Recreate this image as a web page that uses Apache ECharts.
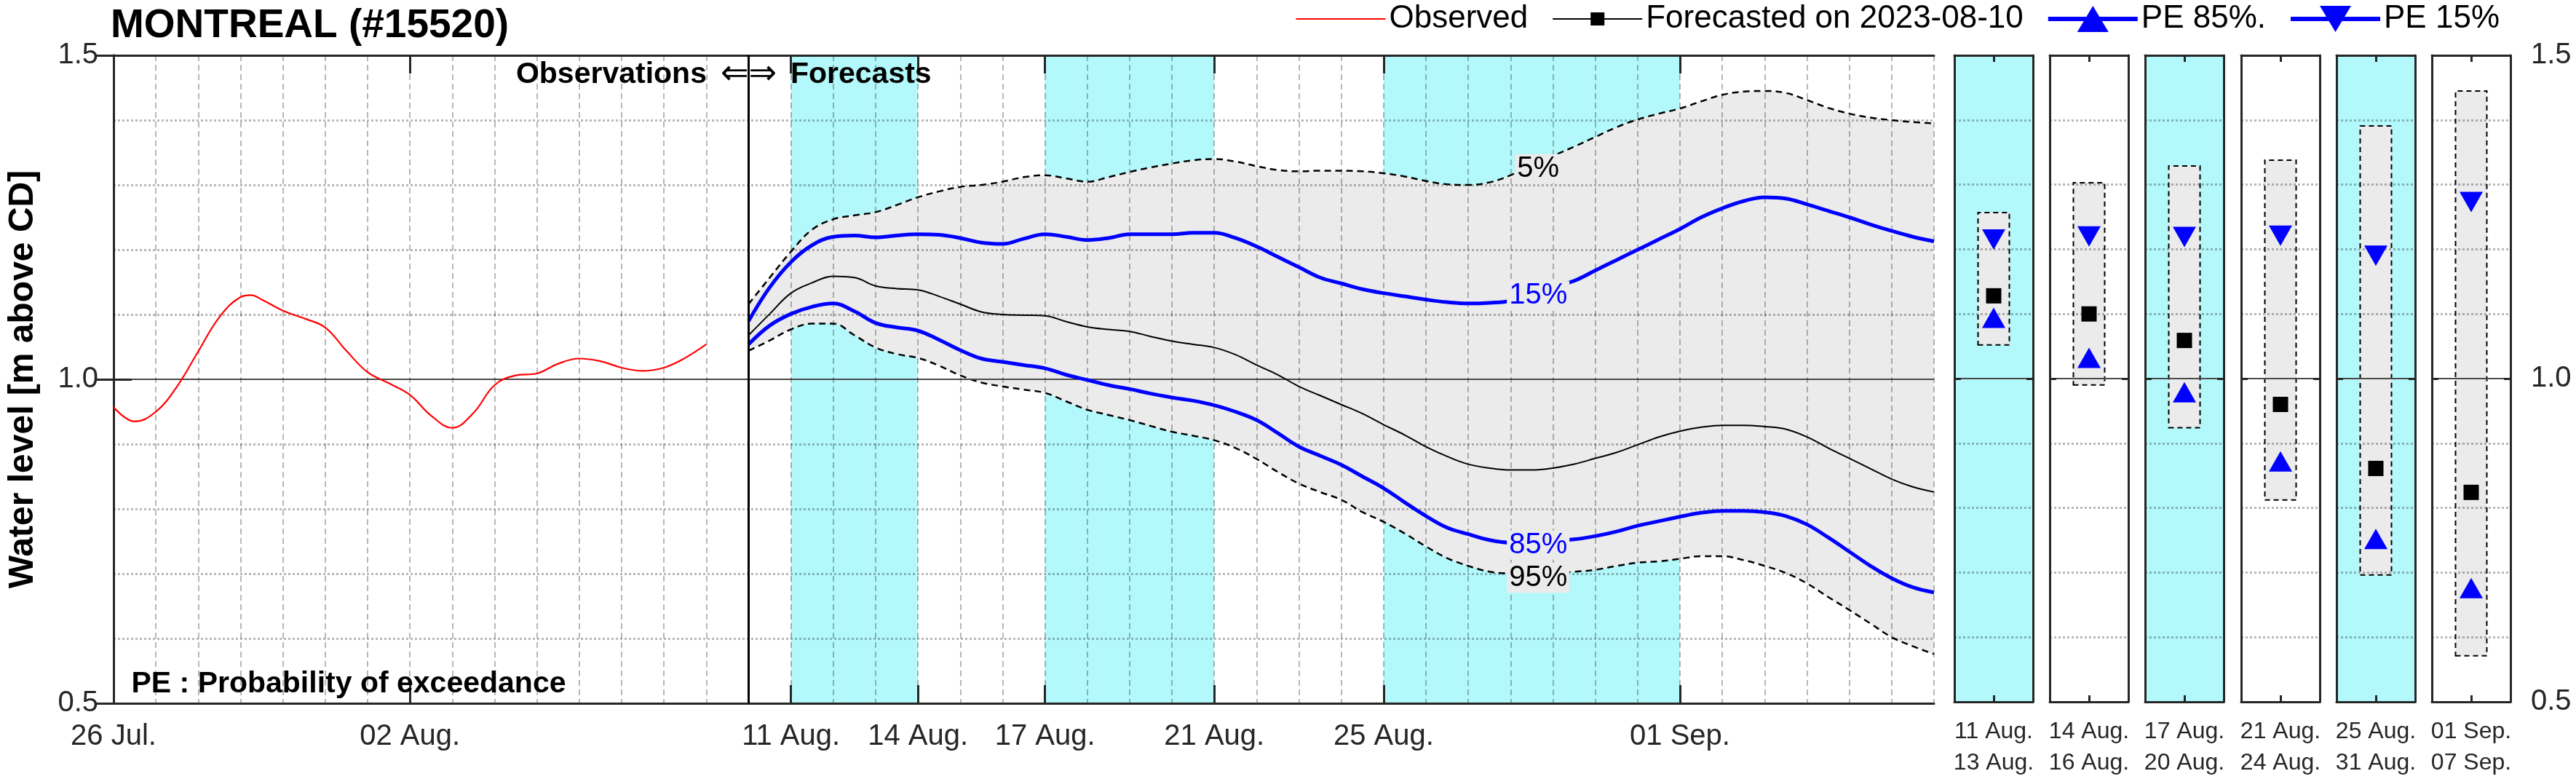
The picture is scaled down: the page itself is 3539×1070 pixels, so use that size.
<!DOCTYPE html>
<html>
<head>
<meta charset="utf-8">
<script src="https://cdn.jsdelivr.net/npm/echarts@6/dist/echarts.min.js"></script>
<style>html,body{margin:0;padding:0;background:#fff}#c{width:3539px;height:1070px}</style>
</head>
<body>
<div id="c"></div>
<script>
// ---------------- DATA ----------------
// x values are days counted from 26 Jul. 2023 00:00
const obsDays  = [0, 0.5, 1, 1.5, 2, 2.5, 3, 3.25, 3.5, 4, 4.5, 5, 5.5, 6, 6.5, 7, 7.5, 8, 8.5, 9, 9.5, 10, 10.5, 11, 11.5, 12, 12.5, 13, 13.5, 14];
const obsLevel = [0.957, 0.935, 0.950, 0.989, 1.043, 1.096, 1.127, 1.130, 1.123, 1.106, 1.094, 1.080, 1.044, 1.011, 0.994, 0.976, 0.944, 0.925, 0.948, 0.991, 1.006, 1.009, 1.024, 1.032, 1.028, 1.018, 1.013, 1.018, 1.033, 1.054];

const fcDays = [15, 15.5, 16, 16.5, 17, 17.5, 18, 18.5, 19, 19.5, 20, 20.5, 21, 21.5, 22, 22.5, 23, 23.5, 24, 24.5, 25, 25.5, 26, 26.5, 27, 27.5, 28, 28.5, 29, 29.5, 30, 30.5, 31, 31.5, 32, 32.5, 33, 33.5, 34, 34.5, 35, 35.5, 36, 36.5, 37, 37.5, 38, 38.5, 39, 39.5, 40, 40.5, 41, 41.5, 42, 42.5, 43];
const fc05 = [1.116, 1.157, 1.197, 1.231, 1.247, 1.253, 1.258, 1.269, 1.281, 1.290, 1.297, 1.300, 1.305, 1.312, 1.315, 1.310, 1.305, 1.312, 1.320, 1.327, 1.333, 1.338, 1.340, 1.336, 1.329, 1.323, 1.321, 1.322, 1.322, 1.321, 1.318, 1.313, 1.306, 1.301, 1.300, 1.304, 1.315, 1.331, 1.345, 1.359, 1.374, 1.389, 1.401, 1.410, 1.418, 1.429, 1.439, 1.444, 1.445, 1.442, 1.431, 1.419, 1.410, 1.404, 1.400, 1.397, 1.395];
const fc15 = [1.090, 1.142, 1.181, 1.207, 1.220, 1.222, 1.219, 1.222, 1.224, 1.223, 1.218, 1.211, 1.209, 1.217, 1.224, 1.220, 1.215, 1.218, 1.224, 1.224, 1.224, 1.226, 1.226, 1.218, 1.205, 1.189, 1.173, 1.157, 1.148, 1.139, 1.133, 1.128, 1.123, 1.119, 1.117, 1.118, 1.121, 1.131, 1.142, 1.152, 1.168, 1.184, 1.200, 1.216, 1.232, 1.250, 1.264, 1.275, 1.281, 1.279, 1.270, 1.260, 1.250, 1.239, 1.229, 1.220, 1.213];
const fcMean = [1.068, 1.101, 1.133, 1.149, 1.159, 1.157, 1.144, 1.140, 1.138, 1.128, 1.116, 1.104, 1.100, 1.099, 1.098, 1.089, 1.081, 1.077, 1.074, 1.066, 1.059, 1.054, 1.049, 1.038, 1.022, 1.007, 0.989, 0.975, 0.961, 0.947, 0.930, 0.914, 0.896, 0.881, 0.869, 0.863, 0.860, 0.860, 0.863, 0.869, 0.878, 0.887, 0.899, 0.911, 0.920, 0.926, 0.929, 0.929, 0.927, 0.923, 0.911, 0.894, 0.878, 0.862, 0.846, 0.834, 0.826];
const fc85 = [1.054, 1.083, 1.101, 1.112, 1.117, 1.105, 1.087, 1.080, 1.075, 1.061, 1.045, 1.032, 1.027, 1.022, 1.017, 1.007, 0.999, 0.991, 0.985, 0.978, 0.972, 0.967, 0.960, 0.950, 0.937, 0.917, 0.896, 0.882, 0.868, 0.850, 0.832, 0.810, 0.789, 0.771, 0.761, 0.752, 0.748, 0.749, 0.751, 0.753, 0.758, 0.765, 0.774, 0.781, 0.788, 0.794, 0.797, 0.797, 0.795, 0.789, 0.776, 0.756, 0.734, 0.712, 0.693, 0.679, 0.671];
const fc95 = [1.044, 1.060, 1.077, 1.086, 1.086, 1.068, 1.049, 1.039, 1.033, 1.021, 1.006, 0.995, 0.989, 0.984, 0.979, 0.966, 0.953, 0.945, 0.937, 0.928, 0.919, 0.913, 0.906, 0.894, 0.877, 0.857, 0.839, 0.826, 0.814, 0.795, 0.780, 0.762, 0.742, 0.724, 0.712, 0.703, 0.700, 0.699, 0.701, 0.703, 0.706, 0.712, 0.717, 0.719, 0.723, 0.727, 0.727, 0.721, 0.712, 0.701, 0.685, 0.664, 0.644, 0.623, 0.602, 0.588, 0.576];

const xTickDays   = [0, 7, 16, 19, 22, 26, 30, 37];
const xTickLabels = ['26 Jul.', '02 Aug.', '11 Aug.', '14 Aug.', '17 Aug.', '21 Aug.', '25 Aug.', '01 Sep.'];
const shadeBands  = [[16, 19], [22, 26], [30, 37]];
const forecastDay = 15;

const curveLabelText  = ['5%', '15%', '85%', '95%'];
const curveLabelDay   = [33.65, 33.65, 33.65, 33.65];
const curveLabelLevel = [1.325, 1.129, 0.744, 0.693];
const curveLabelColor = ['#000000', '#0000ff', '#0000ff', '#000000'];

const periodLabels = ['11 Aug.\n13 Aug.', '14 Aug.\n16 Aug.', '17 Aug.\n20 Aug.', '21 Aug.\n24 Aug.', '25 Aug.\n31 Aug.', '01 Sep.\n07 Sep.'];
const periodShaded = [true, false, true, false, true, false];
const periodHigh = [1.258, 1.304, 1.330, 1.339, 1.392, 1.446];
const periodLow  = [1.051, 0.989, 0.923, 0.811, 0.695, 0.570];
const periodPE15 = [1.215, 1.220, 1.219, 1.221, 1.190, 1.273];
const periodMean = [1.128, 1.100, 1.059, 0.960, 0.861, 0.824];
const periodPE85 = [1.094, 1.032, 0.979, 0.872, 0.752, 0.676];

const yTickValues = [0.5, 1.0, 1.5];

// ---------------- STYLE ----------------
const FONT = "'Liberation Sans', Arial, Helvetica, sans-serif";
const AX = '#262626';
const GRIDC = 'rgba(0,0,0,0.28)';
const CYAN = '#b3f8fb';
const BAND = '#ebebeb';
const BLUE = '#0000ff';
const MAIN = {left: 151, top: 76, width: 2506, height: 890};
const PANEL_LEFT = 2685, PANEL_STEP = 131.2, PANEL_W = 108;

const axLine = {show: true, lineStyle: {color: AX, width: 3}};
const dotted = {show: true, lineStyle: {color: GRIDC, width: 3, type: [3, 3]}};
const major = {show: true, lineStyle: {color: '#4a4a4a', width: 2}};

// ---------------- GRIDS ----------------
const grids = [Object.assign({show: false}, MAIN)];
periodLabels.forEach((_, i) => {
  grids.push({
    left: Math.round(PANEL_LEFT + PANEL_STEP * i), top: MAIN.top, width: PANEL_W, height: MAIN.height,
    show: periodShaded[i], backgroundColor: periodShaded[i] ? CYAN : 'transparent', borderWidth: 0
  });
});

// ---------------- AXES ----------------
const xAxes = [
  { // 0: daily grid + bottom border
    gridIndex: 0, type: 'value', min: 0, max: 43, interval: 1, position: 'bottom', z: 3,
    axisLine: axLine, axisTick: {show: false}, axisLabel: {show: false},
    splitLine: {show: true, lineStyle: {color: GRIDC, width: 2, type: [8, 5]}}
  },
  { // 1: ticks + labels bottom
    gridIndex: 0, type: 'value', min: 0, max: 43, position: 'bottom', z: 3,
    axisLine: {show: false},
    axisTick: {show: true, inside: true, length: 25, customValues: xTickDays, lineStyle: {color: AX, width: 3}},
    axisLabel: {show: true, customValues: xTickDays, fontSize: 40, lineHeight: 40, margin: 26, color: AX, fontFamily: FONT,
      formatter: v => { const k = xTickDays.indexOf(v); return k >= 0 ? xTickLabels[k] : ''; }},
    splitLine: {show: false}
  },
  { // 2: top border + ticks
    gridIndex: 0, type: 'value', min: 0, max: 43, position: 'top', z: 3,
    axisLine: axLine,
    axisTick: {show: true, inside: true, length: 25, customValues: xTickDays, lineStyle: {color: AX, width: 3}},
    axisLabel: {show: false}, splitLine: {show: false}
  }
];
const yAxes = [
  {
    gridIndex: 0, type: 'value', min: 0.5, max: 1.5, interval: 0.5, position: 'left', z: 3,
    axisLine: axLine,
    axisTick: {show: true, inside: true, length: 25, lineStyle: {color: AX, width: 3}},
    axisLabel: {fontSize: 40, margin: 21, color: AX, fontFamily: FONT, formatter: v => v.toFixed(1)},
    splitLine: major, minorTick: {show: false, splitNumber: 5}, minorSplitLine: dotted,
    name: 'Water level [m above CD]', nameLocation: 'middle', nameGap: 100,
    nameTextStyle: {fontSize: 48, fontWeight: 'bold', color: '#000', fontFamily: FONT}
  },
  {
    gridIndex: 0, type: 'value', min: 0.5, max: 1.5, interval: 0.5, position: 'right', z: 3,
    axisLine: axLine,
    axisTick: {show: true, inside: true, length: 25, lineStyle: {color: AX, width: 3}},
    axisLabel: {show: false}, splitLine: {show: false}
  }
];
periodLabels.forEach((lab, i) => {
  const g = i + 1;
  xAxes.push({
    gridIndex: g, type: 'category', data: [lab], position: 'bottom', z: 3,
    axisLine: axLine,
    axisTick: {show: true, inside: true, length: 9, alignWithLabel: true, lineStyle: {color: AX, width: 3}},
    axisLabel: {fontSize: 32, lineHeight: 43, margin: 20, color: AX, fontFamily: FONT, interval: 0},
    splitLine: {show: false}
  });
  xAxes.push({
    gridIndex: g, type: 'category', data: [lab], position: 'top', z: 3,
    axisLine: axLine,
    axisTick: {show: true, inside: true, length: 9, alignWithLabel: true, lineStyle: {color: AX, width: 3}},
    axisLabel: {show: false}, splitLine: {show: false}
  });
  yAxes.push({
    gridIndex: g, type: 'value', min: 0.5, max: 1.5, interval: 0.5, position: 'left', z: 3,
    axisLine: axLine,
    axisTick: {show: true, inside: true, length: 9, lineStyle: {color: AX, width: 3}},
    axisLabel: {show: false},
    splitLine: major, minorTick: {show: false, splitNumber: 5}, minorSplitLine: dotted
  });
  yAxes.push({
    gridIndex: g, type: 'value', min: 0.5, max: 1.5, interval: 0.5, position: 'right', z: 3,
    axisLine: axLine,
    axisTick: {show: true, inside: true, length: 9, lineStyle: {color: AX, width: 3}},
    axisLabel: {show: i === periodLabels.length - 1, fontSize: 40, margin: 28, color: AX, fontFamily: FONT,
      formatter: v => v.toFixed(1)},
    splitLine: {show: false}
  });
});

// ---------------- SERIES ----------------
const pairs = (xs, ys) => xs.map((x, i) => [x, ys[i]]);
const dash = {color: '#000', width: 2.5, type: [9, 6]};
const SM = 0.4;
const series = [
  { // lower edge of the 5-95% band (stack base), value first so the stack is on y
    name: 'band95', type: 'line', xAxisIndex: 0, yAxisIndex: 0, stack: 'band', smooth: SM, symbol: 'none',
    data: fc95.map((v, i) => [v, fcDays[i]]), encode: {x: 1, y: 0},
    lineStyle: dash, z: 2, silent: true,
    markArea: {silent: true, itemStyle: {color: CYAN}, data: shadeBands.map(b => [{xAxis: b[0]}, {xAxis: b[1]}])}
  },
  {
    name: 'band05', type: 'line', xAxisIndex: 0, yAxisIndex: 0, stack: 'band', smooth: SM, symbol: 'none',
    data: fc05.map((v, i) => [v - fc95[i], fcDays[i]]), encode: {x: 1, y: 0},
    lineStyle: dash, areaStyle: {color: BAND, opacity: 1}, z: 2, silent: true
  },
  {
    name: 'Observed', type: 'line', xAxisIndex: 0, yAxisIndex: 0, smooth: SM, symbol: 'none', color: '#ff0000',
    data: pairs(obsDays, obsLevel), lineStyle: {color: '#ff0000', width: 2.2}, z: 4,
    markLine: {silent: true, symbol: 'none', label: {show: false}, lineStyle: {color: '#000', width: 3, type: 'solid'},
      data: [{xAxis: forecastDay}]}
  },
  {
    name: 'Forecasted on 2023-08-10', type: 'line', xAxisIndex: 0, yAxisIndex: 0, smooth: SM, symbol: 'none', color: '#000',
    data: pairs(fcDays, fcMean), lineStyle: {color: '#000', width: 2}, z: 4
  },
  {
    name: 'PE 85%.', type: 'line', xAxisIndex: 0, yAxisIndex: 0, smooth: SM, symbol: 'none', color: BLUE,
    data: pairs(fcDays, fc85), lineStyle: {color: BLUE, width: 5}, z: 4
  },
  {
    name: 'PE 15%', type: 'line', xAxisIndex: 0, yAxisIndex: 0, smooth: SM, symbol: 'none', color: BLUE,
    data: pairs(fcDays, fc15), lineStyle: {color: BLUE, width: 5}, z: 4
  },
  { // inline curve labels
    name: 'curveLabels', type: 'scatter', xAxisIndex: 0, yAxisIndex: 0, symbolSize: 1, silent: true, z: 8,
    itemStyle: {color: 'rgba(0,0,0,0)', opacity: 1},
    data: curveLabelText.map((t, i) => ({
      value: [curveLabelDay[i], curveLabelLevel[i]],
      label: {show: true, formatter: t, position: 'inside', color: curveLabelColor[i], fontSize: 40, opacity: 1,
        fontFamily: FONT, backgroundColor: BAND, padding: [0, 3]}
    }))
  },
  { // annotations
    name: 'notes', type: 'scatter', xAxisIndex: 0, yAxisIndex: 0, symbolSize: 1, silent: true, z: 8,
    itemStyle: {color: 'rgba(0,0,0,0)', opacity: 1},
    data: [
      {value: [forecastDay, 1.4697], label: {show: true, formatter: 'Observations', position: 'left', distance: 57,
        fontWeight: 'bold', fontSize: 41, color: '#000', opacity: 1, fontFamily: FONT}},
      {value: [forecastDay, 1.4697], label: {show: true, formatter: '\u21D0\u21D2', position: 'inside',
        fontSize: 46, color: '#000', opacity: 1, fontFamily: 'DejaVu Sans'}},
      {value: [forecastDay, 1.4697], label: {show: true, formatter: 'Forecasts', position: 'right', distance: 57,
        fontWeight: 'bold', fontSize: 41, color: '#000', opacity: 1, fontFamily: FONT}},
      {value: [0, 0.5292], label: {show: true, formatter: 'PE : Probability of exceedance', position: 'right', distance: 24,
        fontWeight: 'bold', fontSize: 41, color: '#000', opacity: 1, fontFamily: FONT}}
    ]
  }
];

periodLabels.forEach((lab, i) => {
  const xi = 3 + 2 * i, yi = 2 + 2 * i;
  series.push({
    name: 'boxBase' + i, type: 'bar', xAxisIndex: xi, yAxisIndex: yi, stack: 'box' + i, barWidth: 45, silent: true,
    data: [periodLow[i]], itemStyle: {color: 'rgba(0,0,0,0)'}, z: 2
  });
  series.push({
    name: 'box' + i, type: 'bar', xAxisIndex: xi, yAxisIndex: yi, stack: 'box' + i, barWidth: 45, silent: true,
    data: [periodHigh[i] - periodLow[i]],
    itemStyle: {color: BAND, borderColor: '#000', borderWidth: 2, borderType: [7, 5]}, z: 2
  });
  series.push({
    name: 'PE 15%', type: 'scatter', xAxisIndex: xi, yAxisIndex: yi, symbol: 'triangle', symbolRotate: 180,
    symbolSize: [32, 28], itemStyle: {color: BLUE, opacity: 1}, data: [[0, periodPE15[i]]], z: 6, silent: true
  });
  series.push({
    name: 'Forecasted on 2023-08-10', type: 'scatter', xAxisIndex: xi, yAxisIndex: yi, symbol: 'rect',
    symbolSize: 21, itemStyle: {color: '#000', opacity: 1}, data: [[0, periodMean[i]]], z: 6, silent: true
  });
  series.push({
    name: 'PE 85%.', type: 'scatter', xAxisIndex: xi, yAxisIndex: yi, symbol: 'triangle',
    symbolSize: [32, 28], itemStyle: {color: BLUE, opacity: 1}, data: [[0, periodPE85[i]]], z: 6, silent: true
  });
});

const EXT = 'M0,0L1,0Z M0,36L1,36Z ';
const option = {
  animation: false,
  backgroundColor: '#ffffff',
  textStyle: {fontFamily: FONT},
  title: {
    text: 'MONTREAL (#15520)', left: 152, top: 6, padding: 0,
    textStyle: {fontSize: 55, fontWeight: 'bold', color: '#000', fontFamily: FONT, lineHeight: 60}
  },
  legend: {
    right: 105, top: 4, padding: 0, itemGap: 34, itemWidth: 123, itemHeight: 36, selectedMode: false,
    itemStyle: {borderWidth: 0, opacity: 1},
    textStyle: {fontSize: 44, color: '#000', fontFamily: FONT},
    data: [
      {name: 'Observed', icon: 'path://' + EXT + 'M0,17H123V19H0Z'},
      {name: 'Forecasted on 2023-08-10', icon: 'path://' + EXT + 'M0,17H123V19H0Z M52,9H71V27H52Z'},
      {name: 'PE 85%.', icon: 'path://' + EXT + 'M0,15H123V21H0Z M40,36L61.5,0L83,36Z'},
      {name: 'PE 15%', icon: 'path://' + EXT + 'M0,15H123V21H0Z M40,0L83,0L61.5,36Z'}
    ]
  },
  grid: grids,
  xAxis: xAxes,
  yAxis: yAxes,
  series: series
};

const chart = echarts.init(document.getElementById('c'), null, {renderer: 'canvas'});
chart.setOption(option);
</script>
</body>
</html>
